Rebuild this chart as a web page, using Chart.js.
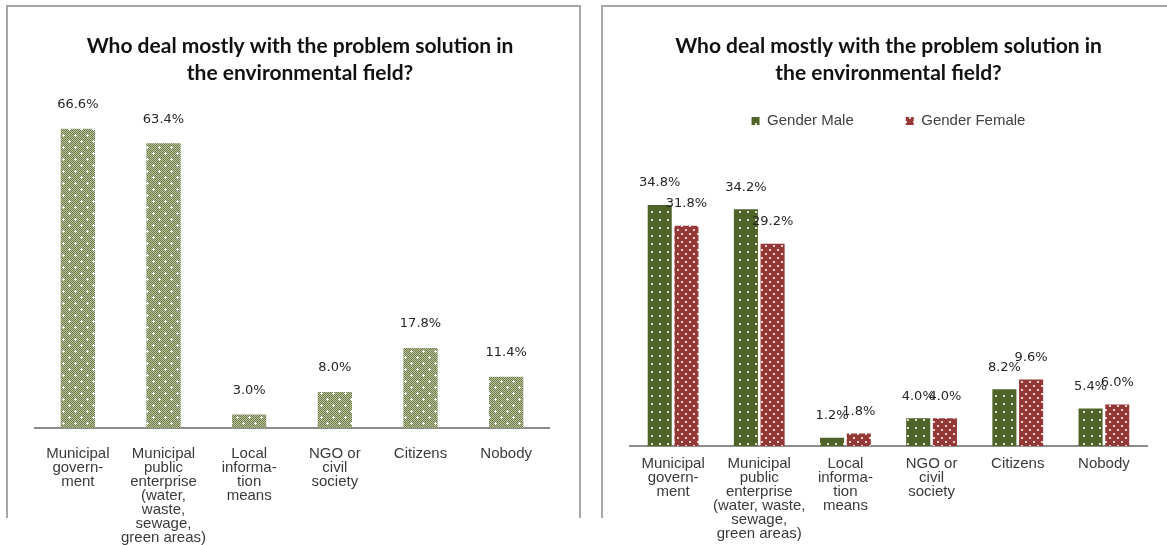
<!DOCTYPE html>
<html><head><meta charset="utf-8">
<script src="https://cdn.jsdelivr.net/npm/chart.js@4/dist/chart.umd.min.js"></script>
<style>
html,body{margin:0;padding:0;background:#fff;width:1167px;height:545px;overflow:hidden;}
.frame{position:absolute;border:2px solid #a6a6a6;border-bottom:none;box-sizing:border-box;}
#f1{left:6px;top:5px;width:575px;height:513px;}
#f2{left:601px;top:5px;width:600px;height:513px;border-right:none;}
.wrap{position:absolute;top:0;height:545px;}
#w1{left:0;width:590px;}
#w2{left:600px;width:567px;}
canvas{display:block;}
</style></head><body>
<div class="frame" id="f1"></div><div class="frame" id="f2"></div>
<div class="wrap" id="w1"><canvas id="c1" width="590" height="545"></canvas></div>
<div class="wrap" id="w2"><canvas id="c2" width="567" height="545"></canvas></div>
<script>
const titleLines = ['Who deal mostly with the problem solution in', 'the environmental field?'];
const categoriesLeft = [
  ['Municipal','govern-','ment'],
  ['Municipal','public','enterprise','(water,','waste,','sewage,','green areas)'],
  ['Local','informa-','tion','means'],
  ['NGO or','civil','society'],
  ['Citizens'],
  ['Nobody']
];
const categoriesRight = [
  ['Municipal','govern-','ment'],
  ['Municipal','public','enterprise','(water, waste,','sewage,','green areas)'],
  ['Local','informa-','tion','means'],
  ['NGO or','civil','society'],
  ['Citizens'],
  ['Nobody']
];
const totalValues = [66.6, 63.4, 3.0, 8.0, 17.8, 11.4];
const seriesNames = ['Gender Male', 'Gender Female'];
const maleValues = [34.8, 34.2, 1.2, 4.0, 8.2, 5.4];
const femaleValues = [31.8, 29.2, 1.8, 4.0, 9.6, 6.0];

function makePattern(size, base, draw) {
  const c = document.createElement('canvas');
  c.width = size; c.height = size;
  const g = c.getContext('2d');
  g.fillStyle = base; g.fillRect(0, 0, size, size);
  draw(g);
  return g.createPattern(c, 'repeat');
}
const olivePattern = makePattern(12, '#b9c1a0', g => {
  g.fillStyle = '#6f7e48';
  for (let y = 0; y < 12; y++) for (let x = 0; x < 12; x++) {
    if ((x + y) % 2 === 0) g.fillRect(x, y, 1, 1);
  }
  g.fillStyle = '#ffffff';
  [[3,3],[9,9]].forEach(([x,y]) => { g.fillRect(x-1, y, 3, 1); g.fillRect(x, y-1, 1, 3); });
});
const malePattern = makePattern(8, '#4f6228', g => {
  g.fillStyle = 'rgba(235,240,225,0.9)';
  g.fillRect(3, 3, 2, 2);
});
const femalePattern = makePattern(8, '#953735', g => {
  g.fillStyle = 'rgba(245,230,230,0.9)';
  g.fillRect(1, 1, 2, 2); g.fillRect(5, 5, 2, 2);
});

function valueLabels(offset) {
  return {
    id: 'valueLabels',
    afterDatasetsDraw(chart) {
      const ctx = chart.ctx;
      ctx.save();
      ctx.font = '13px "DejaVu Sans"';
      ctx.fillStyle = '#262626';
      ctx.textAlign = 'center';
      ctx.textBaseline = 'middle';
      chart.data.datasets.forEach((ds, i) => {
        chart.getDatasetMeta(i).data.forEach((el, j) => {
          ctx.fillText(ds.data[j].toFixed(1) + '%', el.x, el.y - offset);
        });
      });
      ctx.restore();
    }
  };
}
function shiftTitle(dx) {
  return {
    id: 'shiftTitle',
    afterLayout(chart) {
      if (chart.titleBlock) { chart.titleBlock.left += dx; chart.titleBlock.right += dx; }
    }
  };
}

const titleFont = {family: 'Lato', size: 21, weight: 'bold', lineHeight: '27px'};
const tickFont = {family: '"Liberation Sans"', size: 15, lineHeight: '14px'};

new Chart(document.getElementById('c1'), {
  type: 'bar',
  data: {
    labels: categoriesLeft,
    datasets: [{label: 'Total', data: totalValues, backgroundColor: olivePattern, borderWidth: 0,
      categoryPercentage: 0.8, barPercentage: 0.5}]
  },
  options: {
    responsive: false, animation: false,
    layout: {padding: {left: 35, right: 41, top: 0, bottom: 0}},
    plugins: {
      legend: {display: false},
      tooltip: {enabled: false},
      title: {display: true, text: titleLines, color: '#111', font: titleFont, padding: {top: 32.5, bottom: 5}}
    },
    scales: {
      x: {
        grid: {display: false},
        border: {display: true, color: '#8c8c8c', width: 2},
        ticks: {color: '#3a3a3a', font: tickFont, padding: 11, autoSkip: false, maxRotation: 0, minRotation: 0},
        afterFit: s => { s.height = 117; }
      },
      y: {display: false, min: 0, max: 74.9}
    }
  },
  plugins: [valueLabels(24), shiftTitle(8)]
});

new Chart(document.getElementById('c2'), {
  type: 'bar',
  data: {
    labels: categoriesRight,
    datasets: [
      {label: seriesNames[0], data: maleValues, backgroundColor: malePattern, borderWidth: 0,
        categoryPercentage: 0.62, barPercentage: 0.9},
      {label: seriesNames[1], data: femaleValues, backgroundColor: femalePattern, borderWidth: 0,
        categoryPercentage: 0.62, barPercentage: 0.9}
    ]
  },
  options: {
    responsive: false, animation: false,
    layout: {padding: {left: 30, right: 20, top: 0, bottom: 0}},
    plugins: {
      tooltip: {enabled: false},
      title: {display: true, text: titleLines, color: '#111', font: titleFont, padding: {top: 32.5, bottom: -25}},
      legend: {display: true, position: 'top',
        labels: {boxWidth: 8, boxHeight: 8, padding: 52, color: '#404040',
          font: {family: '"Liberation Sans"', size: 15}}}
    },
    scales: {
      x: {
        grid: {display: false},
        border: {display: true, color: '#8c8c8c', width: 2},
        ticks: {color: '#3a3a3a', font: tickFont, padding: 3, autoSkip: false, maxRotation: 0, minRotation: 0},
        afterFit: s => { s.height = 99; }
      },
      y: {display: false, min: 0, max: 44.4}
    }
  },
  plugins: [valueLabels(22)]
});
</script>
</body></html>
